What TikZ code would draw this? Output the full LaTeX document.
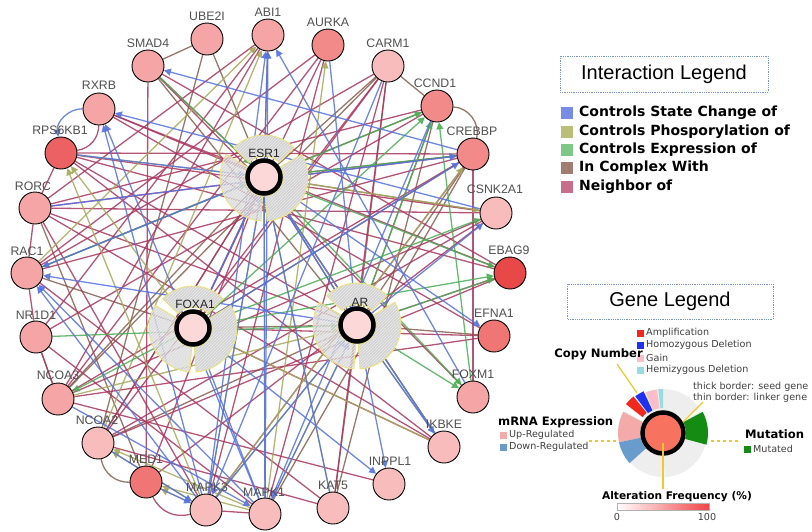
\documentclass[tikz,border=0pt]{standalone}
\usepackage{fontspec}
\setmainfont{Liberation Sans}
\newfontfamily\dvs{DejaVu Sans}
\usetikzlibrary{arrows.meta,patterns}
\pgfdeclarelayer{bottom}
\pgfdeclarelayer{background}
\pgfsetlayers{bottom,background,main}
\definecolor{cbl}{RGB}{85,115,225}
\definecolor{col}{RGB}{165,170,90}
\definecolor{cgr}{RGB}{75,175,85}
\definecolor{cbr}{RGB}{135,95,80}
\definecolor{cnb}{RGB}{170,55,95}
\definecolor{labgray}{RGB}{80,80,80}
\definecolor{pa}{RGB}{248,188,188}
\definecolor{pb}{RGB}{245,165,165}
\definecolor{pc}{RGB}{242,138,138}
\definecolor{pd}{RGB}{240,118,118}
\definecolor{pe}{RGB}{236,98,98}
\definecolor{pf}{RGB}{233,72,72}
\definecolor{seedfill}{RGB}{252,216,216}
\definecolor{ringyel}{RGB}{236,228,120}
\definecolor{ringfill}{RGB}{212,212,212}
\definecolor{ringstripe}{RGB}{236,236,236}
\definecolor{ylw}{RGB}{240,200,40}
\definecolor{lgbox}{RGB}{120,150,205}
\definecolor{sqbl}{RGB}{120,140,230}
\definecolor{sqol}{RGB}{185,190,120}
\definecolor{sqgr}{RGB}{125,200,135}
\definecolor{sqbr}{RGB}{160,125,110}
\definecolor{sqnb}{RGB}{200,110,140}
\definecolor{amp}{RGB}{240,40,30}
\definecolor{homdel}{RGB}{30,50,240}
\definecolor{gain}{RGB}{250,190,200}
\definecolor{hemdel}{RGB}{150,220,225}
\definecolor{upreg}{RGB}{245,170,170}
\definecolor{downreg}{RGB}{105,155,205}
\definecolor{mutg}{RGB}{20,140,20}
\definecolor{ringgray}{RGB}{238,238,238}
\definecolor{corered}{RGB}{248,115,95}
\definecolor{gradred}{RGB}{240,70,70}
\newcommand\annsect[5]{\path[#5] (#1:#4) arc[start angle=#1,end angle=#2,radius=#4] -- (#2:#3) arc[start angle=#2,end angle=#1,radius=#3] -- cycle;}
\tikzset{
  gene/.style={circle, draw=black, line width=0.9pt, minimum size=32pt, inner sep=0pt},
  glab/.style={font=\fontsize{12.3}{14}\selectfont, text=labgray, inner sep=0pt},
  seedcore/.style={circle, draw=black, line width=4.5pt, minimum size=33pt, inner sep=0pt, fill=seedfill},
  seedlab/.style={font=\fontsize{12}{14}\selectfont, text=black!85, inner sep=0pt},
  ringst/.style={preaction={fill=ringfill, fill opacity=0.97}, pattern=north east lines, pattern color=ringstripe, draw=ringyel, line width=0.9pt},
  ringlt/.style={preaction={fill=ringfill, fill opacity=0.75}, pattern=north east lines, pattern color=ringstripe, draw=ringyel, line width=0.9pt},
  edge/.style={line width=1.3pt, opacity=0.85},
  tip/.style={-{Triangle[length=7pt,width=7pt]}},
  bl/.style={edge, tip, draw=cbl},
  ol/.style={edge, tip, draw=col},
  gr/.style={edge, tip, draw=cgr},
  br/.style={edge, draw=cbr},
  nb/.style={edge, draw=cnb},
  legtitle/.style={font=\fontsize{20}{24}\selectfont, inner sep=0pt},
  legbox/.style={draw=lgbox, densely dotted, line width=0.8pt},
  legitem/.style={font=\dvs\bfseries\fontsize{14}{16}\selectfont, anchor=west, inner sep=0pt},
  smalltxt/.style={font=\dvs\fontsize{9.6}{11}\selectfont, text=black!75, anchor=west, inner sep=0pt},
  boldtxt/.style={font=\dvs\bfseries\fontsize{11.6}{13}\selectfont, inner sep=0pt},
  yl/.style={draw=ylw, line width=1.2pt}
}
\begin{document}
\begin{tikzpicture}[x=1pt,y=-1pt]
\useasboundingbox (0,0) rectangle (812,531);
\begin{pgfonlayer}{bottom}
\fill[white] (0,0) rectangle (812,531);
\end{pgfonlayer}
% outer genes
\foreach \n/\x/\y/\c/\t/\lx/\ly in {
 ube/207/39/pb/UBE2I/207/16,
 abi/268/35/pb/ABI1/268/12,
 aur/328/45/pc/AURKA/328/22,
 car/388/66/pa/CARM1/388/43,
 ccn/437/106/pc/CCND1/435/83,
 cre/473/154/pc/CREBBP/472/131,
 csn/496/213/pa/CSNK2A1/495/189,
 eba/510/273/pf/EBAG9/509/250,
 efn/494/336/pd/EFNA1/494/313,
 fxm/473/397/pb/FOXM1/473/374,
 ikb/444/447/pa/IKBKE/444/424,
 inp/389/484/pa/INPPL1/390/461,
 kat/333/508/pa/KAT5/333/485,
 mk1/265/514/pa/MAPK1/264/492,
 mk3/206/510/pa/MAPK3/207/487,
 med/146/482/pd/MED1/146/459,
 nc2/98/443/pa/NCOA2/97/420,
 nc3/58/399/pb/NCOA3/58/375,
 nr1/36/337/pb/NR1D1/36/315,
 rac/27/273/pb/RAC1/27/251,
 ror/35/208/pb/RORC/33/186,
 rps/61/153/pe/RPS6KB1/60/130,
 rxr/99/109/pb/RXRB/99/85,
 sma/148/66/pb/SMAD4/148/43}
{
 \node[gene, fill=\c] (\n) at (\x,\y) {};
 \node[glab] (\n-l) at (\lx,\ly) {\t};
}
% seed rings
\foreach \cx/\cy in {264/177, 193/328, 357/325}{
 \begin{scope}[shift={(\cx,\cy)}, yscale=-1]
  \annsect{44}{136}{21}{42}{ringst}
  \annsect{-86}{31}{19}{44}{ringst}
  \annsect{149}{266}{19}{44}{ringlt}
 \end{scope}
}
\node[seedcore] (esr) at (264,177) {};
\node[seedcore] (fox) at (193,328) {};
\node[seedcore] (ar) at (357,325) {};
\node[seedlab] (esr-l) at (264,153) {ESR1};
\node[seedlab] (fox-l) at (195,304) {FOXA1};
\node[seedlab] (ar-l) at (360,302) {AR};
% edges
\begin{pgfonlayer}{background}
\foreach \a/\b in {ube/sma, nc2/ube, nc3/car, kat/ccn, mk1/cre, sma/esr, ube/esr, car/ccn, car/esr, car/ar, ccn/ar, ar/efn, ar/kat, rac/fox, ror/med, nr1/nc3, esr/nc3, ar/nc2, esr/nc2, cre/ar, cre/fox, csn/esr, abi/esr, sma/ar, esr/fox, ar/fox, esr/ar, rac/ccn, cre/esr}
 \draw[br] (\a) -- (\b);
\foreach \a/\b in {rxr/esr, rps/ror, ror/rac, rac/nr1, nr1/nc3, sma/med, aur/fox, aur/nc3, car/fox, car/nc2, car/rac, car/mk1, ccn/nr1, cre/fxm, cre/rac, cre/ror, cre/nc3, cre/mk3, csn/rps, csn/nc2, csn/med, eba/ar, eba/rps, ikb/ror, kat/nc2, mk1/nr1, mk3/ror, med/esr, nc2/esr, nc3/csn, rps/ar, ror/ar, ror/csn, mk3/mk1, efn/rxr, efn/nc3, fxm/sma, ikb/rps, abi/nr1, esr/ikb, fox/ikb, aur/mk3, sma/eba, cre/rps, ccn/ror, rxr/eba, kat/rac, inp/nc3, efn/fox, car/kat, nc3/abi, abi/ror, aur/rac, eba/nc2}
 \draw[nb] (\a) -- (\b);
\foreach \a/\b in {rac/abi, nc2/abi, mk3/rps, rps/esr, mk1/esr, mk3/esr, mk1/ar, mk3/ar, mk1/nc2, mk3/nc2, mk1/med, mk3/med, esr/csn, mk1/aur, ikb/esr, ikb/ar, ikb/fox, fox/rps, mk3/cre, kat/esr, nc3/ar}
 \draw[ol] (\a) -- (\b);
\foreach \a/\b in {esr/ccn, fxm/ccn, esr/eba, ar/eba, sma/esr, ar/fxm, esr/cre, fox/nc3, fox/ccn, rac/esr, fox/eba, ar/ccn, esr/fxm, fox/csn, nr1/ar}
 \draw[gr] (\a) -- (\b);
\foreach \a/\b in {mk1/abi, mk3/abi, esr/abi, fxm/abi, mk1/rxr, mk3/rxr, cre/sma, mk1/rac, mk3/rac, esr/rac, ar/rac, esr/efn, ar/inp, fox/inp, ar/csn, mk1/esr, mk3/esr, mk1/ar, mk3/ar, mk1/fox, aur/ar, ikb/esr, fox/cre, ror/cre, rps/esr, ar/esr, esr/fox, ar/ikb, med/mk3, nc2/mk3, nc3/mk1, kat/esr, car/mk3, ccn/mk1, csn/rxr}
 \draw[bl] (\a) -- (\b);
\draw[bl] (rxr) to[bend right=50] (rps);
\draw[nb] (rps) to[bend right=40] (rxr);
\draw[br] (ccn) to[bend left=50] (cre);
\draw[br] (nc2) to[bend right=40] (med);
\draw[nb] (med) to[bend right=40] (mk3);
\end{pgfonlayer}
% interaction legend
\draw[legbox] (560,56) rectangle (768,92);
\node[legtitle] (ilt) at (664,74) {Interaction Legend};
\foreach \yy/\cc/\tt/\nm in {113/sqbl/Controls State Change of/i1, 132/sqol/Controls Phosporylation of/i2, 150/sqgr/Controls Expression of/i3, 168/sqbr/In Complex With/i4, 187/sqnb/Neighbor of/i5}{
 \fill[\cc] (561,\yy-6) rectangle (573,\yy+6);
 \node[legitem] (\nm) at (579,\yy) {\tt};
}
% gene legend
\draw[legbox] (567,284) rectangle (773,319);
\node[legtitle] (glt) at (670,301) {Gene Legend};
\begin{scope}[shift={(663,433)}, yscale=-1]
 \annsect{35}{143}{23}{44}{fill=ringgray}
 \annsect{150}{268}{23}{44}{fill=ringgray}
 \annsect{-88}{30}{23}{44}{fill=ringgray}
 \annsect{90}{96}{25}{44}{fill=hemdel}
 \annsect{98}{113}{25}{44}{fill=gain}
 \annsect{115}{127}{25}{46}{fill=homdel}
 \annsect{129}{142}{26}{47}{fill=amp}
 \annsect{152}{192}{23}{45}{fill=upreg}
 \annsect{192}{222}{23}{45}{fill=downreg}
 \annsect{-15}{28}{23}{45}{fill=mutg}
\end{scope}
\node[circle, draw=black, line width=4.5pt, minimum size=41pt, inner sep=0pt, fill=corered] (glcore) at (663,433) {};
\foreach \yy/\cc/\tt/\nm in {333/amp/Amplification/c1, 345/homdel/Homozygous Deletion/c2, 358/gain/Gain/c3, 370/hemdel/Hemizygous Deletion/c4}{
 \fill[\cc] (637,\yy-3.5) rectangle (644,\yy+3.5);
 \node[smalltxt] (\nm) at (646,\yy) {\tt};
}
\node[boldtxt, anchor=east] (cnum) at (643,354) {Copy Number};
\node[smalltxt] (thick) at (693,387) {thick border: seed gene};
\node[smalltxt] (thin) at (693,398) {thin border: linker gene};
\node[boldtxt, anchor=west] (mrna) at (498,422) {mRNA Expression};
\fill[upreg] (500,432) rectangle (507,439);
\node[smalltxt] (up) at (509,435) {Up-Regulated};
\fill[downreg] (500,444) rectangle (507,451);
\node[smalltxt] (down) at (509,447) {Down-Regulated};
\node[boldtxt, anchor=west] (mut) at (745,434) {Mutation};
\fill[mutg] (744,446) rectangle (751,453);
\node[smalltxt] (mutd) at (753,449) {Mutated};
\node[boldtxt, font=\dvs\bfseries\fontsize{10.6}{12}\selectfont] (alt) at (677,497) {Alteration Frequency (\%)};
\shade[left color=white, right color=gradred] (617,503) rectangle (709,510);
\draw[gray!60, line width=0.4pt] (617,503) rectangle (709,510);
\node[smalltxt, anchor=center] (g0) at (617,517) {0};
\node[smalltxt, anchor=center] (g100) at (707,517) {100};
\coordinate (cnA) at (617,364);
\coordinate (cnB) at (637,393);
\coordinate (thA) at (703,402);
\coordinate (thB) at (683,422);
\coordinate (mrA) at (589,441);
\coordinate (mrB) at (617,441);
\coordinate (muA) at (711,441);
\coordinate (muB) at (740,441);
\coordinate (afA) at (663,443);
\coordinate (afB) at (663,489);
\draw[yl] (cnA) -- (cnB);
\draw[yl] (thA) -- (thB);
\draw[yl, dashed] (mrA) -- (mrB);
\draw[yl, dashed] (muA) -- (muB);
\draw[yl] (afA) -- (afB);
\end{tikzpicture}
\end{document}
